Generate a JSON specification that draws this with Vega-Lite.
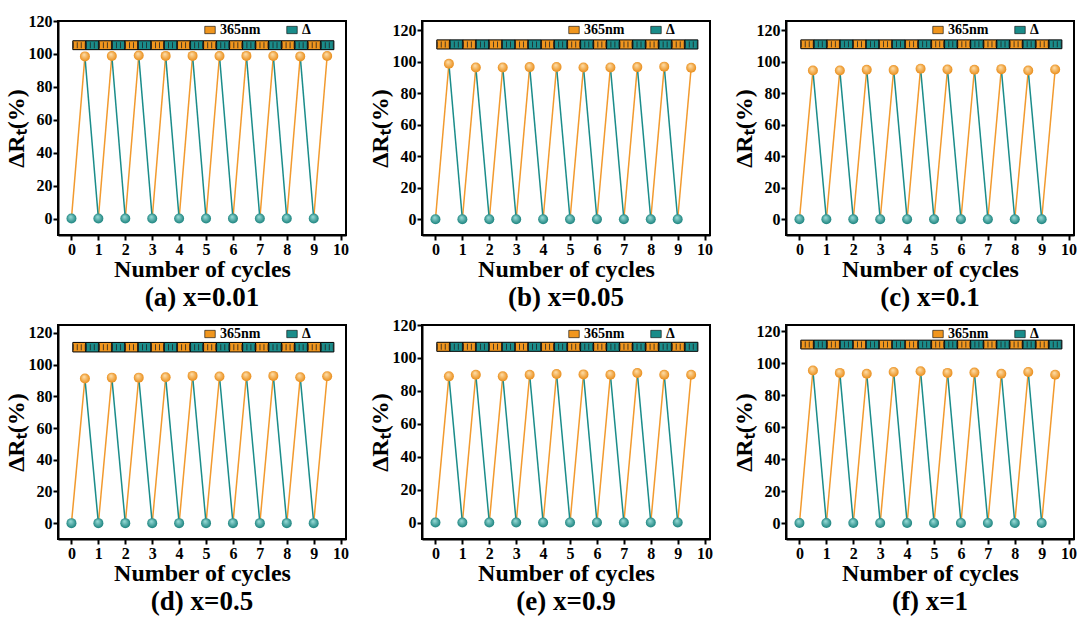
{
  "$schema": "https://vega.github.io/schema/vega-lite/v6.json",
  "background": "white",
  "padding": {"left": 3, "top": 12, "right": 0, "bottom": 0},
  "datasets": {
    "cycles": [
      {"p":"a","t0":0,"t1":0.5,"t2":1,"low":0,"peak":98.5},{"p":"a","t0":1,"t1":1.5,"t2":2,"low":0,"peak":98.7},{"p":"a","t0":2,"t1":2.5,"t2":3,"low":0,"peak":99},{"p":"a","t0":3,"t1":3.5,"t2":4,"low":0,"peak":98.8},{"p":"a","t0":4,"t1":4.5,"t2":5,"low":0,"peak":98.8},{"p":"a","t0":5,"t1":5.5,"t2":6,"low":0,"peak":98.7},{"p":"a","t0":6,"t1":6.5,"t2":7,"low":0,"peak":98.8},{"p":"a","t0":7,"t1":7.5,"t2":8,"low":0,"peak":98.7},{"p":"a","t0":8,"t1":8.5,"t2":9,"low":0,"peak":98.5},{"p":"a","t0":9,"t1":9.5,"t2":10,"low":0,"peak":98.7},
      {"p":"b","t0":0,"t1":0.5,"t2":1,"low":0,"peak":98.8},{"p":"b","t0":1,"t1":1.5,"t2":2,"low":0,"peak":96.5},{"p":"b","t0":2,"t1":2.5,"t2":3,"low":0,"peak":96.5},{"p":"b","t0":3,"t1":3.5,"t2":4,"low":0,"peak":96.7},{"p":"b","t0":4,"t1":4.5,"t2":5,"low":0,"peak":96.8},{"p":"b","t0":5,"t1":5.5,"t2":6,"low":0,"peak":96.5},{"p":"b","t0":6,"t1":6.5,"t2":7,"low":0,"peak":96.5},{"p":"b","t0":7,"t1":7.5,"t2":8,"low":0,"peak":96.7},{"p":"b","t0":8,"t1":8.5,"t2":9,"low":0,"peak":97},{"p":"b","t0":9,"t1":9.5,"t2":10,"low":0,"peak":96.3},
      {"p":"c","t0":0,"t1":0.5,"t2":1,"low":0,"peak":94.5},{"p":"c","t0":1,"t1":1.5,"t2":2,"low":0,"peak":94.5},{"p":"c","t0":2,"t1":2.5,"t2":3,"low":0,"peak":95},{"p":"c","t0":3,"t1":3.5,"t2":4,"low":0,"peak":94.8},{"p":"c","t0":4,"t1":4.5,"t2":5,"low":0,"peak":95.7},{"p":"c","t0":5,"t1":5.5,"t2":6,"low":0,"peak":95.2},{"p":"c","t0":6,"t1":6.5,"t2":7,"low":0,"peak":95},{"p":"c","t0":7,"t1":7.5,"t2":8,"low":0,"peak":95.4},{"p":"c","t0":8,"t1":8.5,"t2":9,"low":0,"peak":94.5},{"p":"c","t0":9,"t1":9.5,"t2":10,"low":0,"peak":95.2},
      {"p":"d","t0":0,"t1":0.5,"t2":1,"low":0,"peak":91.2},{"p":"d","t0":1,"t1":1.5,"t2":2,"low":0,"peak":91.8},{"p":"d","t0":2,"t1":2.5,"t2":3,"low":0,"peak":91.8},{"p":"d","t0":3,"t1":3.5,"t2":4,"low":0,"peak":92},{"p":"d","t0":4,"t1":4.5,"t2":5,"low":0,"peak":92.9},{"p":"d","t0":5,"t1":5.5,"t2":6,"low":0,"peak":92.5},{"p":"d","t0":6,"t1":6.5,"t2":7,"low":0,"peak":92.7},{"p":"d","t0":7,"t1":7.5,"t2":8,"low":0,"peak":92.9},{"p":"d","t0":8,"t1":8.5,"t2":9,"low":0,"peak":92},{"p":"d","t0":9,"t1":9.5,"t2":10,"low":0,"peak":92.7},
      {"p":"e","t0":0,"t1":0.5,"t2":1,"low":0,"peak":88.8},{"p":"e","t0":1,"t1":1.5,"t2":2,"low":0,"peak":89.8},{"p":"e","t0":2,"t1":2.5,"t2":3,"low":0,"peak":88.8},{"p":"e","t0":3,"t1":3.5,"t2":4,"low":0,"peak":89.8},{"p":"e","t0":4,"t1":4.5,"t2":5,"low":0,"peak":90.2},{"p":"e","t0":5,"t1":5.5,"t2":6,"low":0,"peak":90},{"p":"e","t0":6,"t1":6.5,"t2":7,"low":0,"peak":89.8},{"p":"e","t0":7,"t1":7.5,"t2":8,"low":0,"peak":90.8},{"p":"e","t0":8,"t1":8.5,"t2":9,"low":0,"peak":89.8},{"p":"e","t0":9,"t1":9.5,"t2":10,"low":0,"peak":89.8},
      {"p":"f","t0":0,"t1":0.5,"t2":1,"low":0,"peak":95.5},{"p":"f","t0":1,"t1":1.5,"t2":2,"low":0,"peak":94},{"p":"f","t0":2,"t1":2.5,"t2":3,"low":0,"peak":93.5},{"p":"f","t0":3,"t1":3.5,"t2":4,"low":0,"peak":94.6},{"p":"f","t0":4,"t1":4.5,"t2":5,"low":0,"peak":95},{"p":"f","t0":5,"t1":5.5,"t2":6,"low":0,"peak":94},{"p":"f","t0":6,"t1":6.5,"t2":7,"low":0,"peak":94.2},{"p":"f","t0":7,"t1":7.5,"t2":8,"low":0,"peak":93.5},{"p":"f","t0":8,"t1":8.5,"t2":9,"low":0,"peak":94.6},{"p":"f","t0":9,"t1":9.5,"t2":10,"low":0,"peak":92.9}
    ],
    "bar": [
      {"s":0.05,"e":0.535,"kind":"365nm"},{"s":0.535,"e":1.02,"kind":"Δ"},{"s":1.02,"e":1.505,"kind":"365nm"},{"s":1.505,"e":1.99,"kind":"Δ"},{"s":1.99,"e":2.475,"kind":"365nm"},{"s":2.475,"e":2.96,"kind":"Δ"},{"s":2.96,"e":3.445,"kind":"365nm"},{"s":3.445,"e":3.93,"kind":"Δ"},{"s":3.93,"e":4.415,"kind":"365nm"},{"s":4.415,"e":4.9,"kind":"Δ"},{"s":4.9,"e":5.385,"kind":"365nm"},{"s":5.385,"e":5.87,"kind":"Δ"},{"s":5.87,"e":6.355,"kind":"365nm"},{"s":6.355,"e":6.84,"kind":"Δ"},{"s":6.84,"e":7.325,"kind":"365nm"},{"s":7.325,"e":7.81,"kind":"Δ"},{"s":7.81,"e":8.295,"kind":"365nm"},{"s":8.295,"e":8.78,"kind":"Δ"},{"s":8.78,"e":9.265,"kind":"365nm"},{"s":9.265,"e":9.75,"kind":"Δ"}
    ]
  },
  "columns": 3,
  "spacing": {"row": 90, "column": 76},
  "bounds": "flush",
  "resolve": {"scale": {"x": "independent", "y": "independent", "color": "independent"}, "legend": {"color": "independent"}},
  "concat": [
    {"width": 288, "height": 214, "title": "(a) x=0.01",
     "layer": [
      {"data": {"name": "cycles"}, "transform": [{"filter": "datum.p == 'a'"}],
       "mark": {"type": "rule", "color": "#F29A2E", "strokeWidth": 1.5},
       "encoding": {"x": {"field": "t0", "type": "quantitative", "scale": {"domain": [-0.5, 10.2], "nice": false}, "axis": {"values": [0,1,2,3,4,5,6,7,8,9,10], "title": "Number of cycles", "labelAngle": 0}},
                    "x2": {"field": "t1"},
                    "y": {"field": "low", "type": "quantitative", "scale": {"domain": [-10, 120], "nice": false, "zero": false}, "axis": {"values": [0,20,40,60,80,100,120], "title": "ΔRₜ(%)"}},
                    "y2": {"field": "peak"}}},
      {"data": {"name": "cycles"}, "transform": [{"filter": "datum.p == 'a' && datum.t0 < 9"}],
       "mark": {"type": "rule", "color": "#1A8C8A", "strokeWidth": 1.5},
       "encoding": {"x": {"field": "t1", "type": "quantitative", "axis": {"values": [0,1,2,3,4,5,6,7,8,9,10], "title": "Number of cycles", "labelAngle": 0}}, "x2": {"field": "t2"}, "y": {"field": "peak", "type": "quantitative", "axis": {"values": [0,20,40,60,80,100,120], "title": "ΔRₜ(%)"}}, "y2": {"field": "low"}}},
      {"data": {"name": "bar"}, "mark": {"type": "rect", "stroke": "black", "strokeWidth": 1},
       "encoding": {"x": {"field": "s", "type": "quantitative", "axis": {"values": [0,1,2,3,4,5,6,7,8,9,10], "title": "Number of cycles", "labelAngle": 0}}, "x2": {"field": "e"}, "y": {"datum": 102.6, "type": "quantitative", "axis": {"values": [0,20,40,60,80,100,120], "title": "ΔRₜ(%)"}}, "y2": {"datum": 108},
                    "color": {"field": "kind", "type": "nominal", "scale": {"domain": ["365nm", "Δ"], "range": ["#F0961E", "#1A8C8A"]}, "legend": {"title": null, "legendX": 145, "legendY": 2}}}},
      {"data": {"name": "bar"}, "mark": {"type": "rule", "color": "#222", "strokeWidth": 6, "strokeDash": [0.8, 3.2]},
       "encoding": {"x": {"field": "s", "type": "quantitative", "axis": {"values": [0,1,2,3,4,5,6,7,8,9,10], "title": "Number of cycles", "labelAngle": 0}}, "x2": {"field": "e"}, "y": {"datum": 105.3, "type": "quantitative", "axis": {"values": [0,20,40,60,80,100,120], "title": "ΔRₜ(%)"}}}},
      {"data": {"name": "cycles"}, "transform": [{"filter": "datum.p == 'a'"}],
       "mark": {"type": "point", "filled": true, "size": 100, "opacity": 1, "fill": {"gradient": "radial", "x1": 0.4, "y1": 0.3, "r1": 0, "x2": 0.5, "y2": 0.5, "r2": 0.55, "stops": [{"offset": 0, "color": "#9fe0dc"}, {"offset": 1, "color": "#137d78"}]}},
       "encoding": {"x": {"field": "t0", "type": "quantitative", "axis": {"values": [0,1,2,3,4,5,6,7,8,9,10], "title": "Number of cycles", "labelAngle": 0}}, "y": {"field": "low", "type": "quantitative", "axis": {"values": [0,20,40,60,80,100,120], "title": "ΔRₜ(%)"}}}},
      {"data": {"name": "cycles"}, "transform": [{"filter": "datum.p == 'a'"}],
       "mark": {"type": "point", "filled": true, "size": 100, "opacity": 1, "fill": {"gradient": "radial", "x1": 0.4, "y1": 0.3, "r1": 0, "x2": 0.5, "y2": 0.5, "r2": 0.55, "stops": [{"offset": 0, "color": "#ffe2b0"}, {"offset": 1, "color": "#e8870f"}]}},
       "encoding": {"x": {"field": "t1", "type": "quantitative", "axis": {"values": [0,1,2,3,4,5,6,7,8,9,10], "title": "Number of cycles", "labelAngle": 0}}, "y": {"field": "peak", "type": "quantitative", "axis": {"values": [0,20,40,60,80,100,120], "title": "ΔRₜ(%)"}}}}
     ]},
    {"width": 288, "height": 214, "title": "(b) x=0.05",
     "layer": [
      {"data": {"name": "cycles"}, "transform": [{"filter": "datum.p == 'b'"}],
       "mark": {"type": "rule", "color": "#F29A2E", "strokeWidth": 1.5},
       "encoding": {"x": {"field": "t0", "type": "quantitative", "scale": {"domain": [-0.5, 10.2], "nice": false}, "axis": {"values": [0,1,2,3,4,5,6,7,8,9,10], "title": "Number of cycles", "labelAngle": 0}},
                    "x2": {"field": "t1"},
                    "y": {"field": "low", "type": "quantitative", "scale": {"domain": [-10, 126], "nice": false, "zero": false}, "axis": {"values": [0,20,40,60,80,100,120], "title": "ΔRₜ(%)"}},
                    "y2": {"field": "peak"}}},
      {"data": {"name": "cycles"}, "transform": [{"filter": "datum.p == 'b' && datum.t0 < 9"}],
       "mark": {"type": "rule", "color": "#1A8C8A", "strokeWidth": 1.5},
       "encoding": {"x": {"field": "t1", "type": "quantitative", "axis": {"values": [0,1,2,3,4,5,6,7,8,9,10], "title": "Number of cycles", "labelAngle": 0}}, "x2": {"field": "t2"}, "y": {"field": "peak", "type": "quantitative", "axis": {"values": [0,20,40,60,80,100,120], "title": "ΔRₜ(%)"}}, "y2": {"field": "low"}}},
      {"data": {"name": "bar"}, "mark": {"type": "rect", "stroke": "black", "strokeWidth": 1},
       "encoding": {"x": {"field": "s", "type": "quantitative", "axis": {"values": [0,1,2,3,4,5,6,7,8,9,10], "title": "Number of cycles", "labelAngle": 0}}, "x2": {"field": "e"}, "y": {"datum": 108.2, "type": "quantitative", "axis": {"values": [0,20,40,60,80,100,120], "title": "ΔRₜ(%)"}}, "y2": {"datum": 114},
                    "color": {"field": "kind", "type": "nominal", "scale": {"domain": ["365nm", "Δ"], "range": ["#F0961E", "#1A8C8A"]}, "legend": {"title": null, "legendX": 145, "legendY": 2}}}},
      {"data": {"name": "bar"}, "mark": {"type": "rule", "color": "#222", "strokeWidth": 6, "strokeDash": [0.8, 3.2]},
       "encoding": {"x": {"field": "s", "type": "quantitative", "axis": {"values": [0,1,2,3,4,5,6,7,8,9,10], "title": "Number of cycles", "labelAngle": 0}}, "x2": {"field": "e"}, "y": {"datum": 111.1, "type": "quantitative", "axis": {"values": [0,20,40,60,80,100,120], "title": "ΔRₜ(%)"}}}},
      {"data": {"name": "cycles"}, "transform": [{"filter": "datum.p == 'b'"}],
       "mark": {"type": "point", "filled": true, "size": 100, "opacity": 1, "fill": {"gradient": "radial", "x1": 0.4, "y1": 0.3, "r1": 0, "x2": 0.5, "y2": 0.5, "r2": 0.55, "stops": [{"offset": 0, "color": "#9fe0dc"}, {"offset": 1, "color": "#137d78"}]}},
       "encoding": {"x": {"field": "t0", "type": "quantitative", "axis": {"values": [0,1,2,3,4,5,6,7,8,9,10], "title": "Number of cycles", "labelAngle": 0}}, "y": {"field": "low", "type": "quantitative", "axis": {"values": [0,20,40,60,80,100,120], "title": "ΔRₜ(%)"}}}},
      {"data": {"name": "cycles"}, "transform": [{"filter": "datum.p == 'b'"}],
       "mark": {"type": "point", "filled": true, "size": 100, "opacity": 1, "fill": {"gradient": "radial", "x1": 0.4, "y1": 0.3, "r1": 0, "x2": 0.5, "y2": 0.5, "r2": 0.55, "stops": [{"offset": 0, "color": "#ffe2b0"}, {"offset": 1, "color": "#e8870f"}]}},
       "encoding": {"x": {"field": "t1", "type": "quantitative", "axis": {"values": [0,1,2,3,4,5,6,7,8,9,10], "title": "Number of cycles", "labelAngle": 0}}, "y": {"field": "peak", "type": "quantitative", "axis": {"values": [0,20,40,60,80,100,120], "title": "ΔRₜ(%)"}}}}
     ]},
    {"width": 288, "height": 214, "title": "(c) x=0.1",
     "layer": [
      {"data": {"name": "cycles"}, "transform": [{"filter": "datum.p == 'c'"}],
       "mark": {"type": "rule", "color": "#F29A2E", "strokeWidth": 1.5},
       "encoding": {"x": {"field": "t0", "type": "quantitative", "scale": {"domain": [-0.5, 10.2], "nice": false}, "axis": {"values": [0,1,2,3,4,5,6,7,8,9,10], "title": "Number of cycles", "labelAngle": 0}},
                    "x2": {"field": "t1"},
                    "y": {"field": "low", "type": "quantitative", "scale": {"domain": [-10, 126], "nice": false, "zero": false}, "axis": {"values": [0,20,40,60,80,100,120], "title": "ΔRₜ(%)"}},
                    "y2": {"field": "peak"}}},
      {"data": {"name": "cycles"}, "transform": [{"filter": "datum.p == 'c' && datum.t0 < 9"}],
       "mark": {"type": "rule", "color": "#1A8C8A", "strokeWidth": 1.5},
       "encoding": {"x": {"field": "t1", "type": "quantitative", "axis": {"values": [0,1,2,3,4,5,6,7,8,9,10], "title": "Number of cycles", "labelAngle": 0}}, "x2": {"field": "t2"}, "y": {"field": "peak", "type": "quantitative", "axis": {"values": [0,20,40,60,80,100,120], "title": "ΔRₜ(%)"}}, "y2": {"field": "low"}}},
      {"data": {"name": "bar"}, "mark": {"type": "rect", "stroke": "black", "strokeWidth": 1},
       "encoding": {"x": {"field": "s", "type": "quantitative", "axis": {"values": [0,1,2,3,4,5,6,7,8,9,10], "title": "Number of cycles", "labelAngle": 0}}, "x2": {"field": "e"}, "y": {"datum": 108.4, "type": "quantitative", "axis": {"values": [0,20,40,60,80,100,120], "title": "ΔRₜ(%)"}}, "y2": {"datum": 114},
                    "color": {"field": "kind", "type": "nominal", "scale": {"domain": ["365nm", "Δ"], "range": ["#F0961E", "#1A8C8A"]}, "legend": {"title": null, "legendX": 145, "legendY": 2}}}},
      {"data": {"name": "bar"}, "mark": {"type": "rule", "color": "#222", "strokeWidth": 6, "strokeDash": [0.8, 3.2]},
       "encoding": {"x": {"field": "s", "type": "quantitative", "axis": {"values": [0,1,2,3,4,5,6,7,8,9,10], "title": "Number of cycles", "labelAngle": 0}}, "x2": {"field": "e"}, "y": {"datum": 111.2, "type": "quantitative", "axis": {"values": [0,20,40,60,80,100,120], "title": "ΔRₜ(%)"}}}},
      {"data": {"name": "cycles"}, "transform": [{"filter": "datum.p == 'c'"}],
       "mark": {"type": "point", "filled": true, "size": 100, "opacity": 1, "fill": {"gradient": "radial", "x1": 0.4, "y1": 0.3, "r1": 0, "x2": 0.5, "y2": 0.5, "r2": 0.55, "stops": [{"offset": 0, "color": "#9fe0dc"}, {"offset": 1, "color": "#137d78"}]}},
       "encoding": {"x": {"field": "t0", "type": "quantitative", "axis": {"values": [0,1,2,3,4,5,6,7,8,9,10], "title": "Number of cycles", "labelAngle": 0}}, "y": {"field": "low", "type": "quantitative", "axis": {"values": [0,20,40,60,80,100,120], "title": "ΔRₜ(%)"}}}},
      {"data": {"name": "cycles"}, "transform": [{"filter": "datum.p == 'c'"}],
       "mark": {"type": "point", "filled": true, "size": 100, "opacity": 1, "fill": {"gradient": "radial", "x1": 0.4, "y1": 0.3, "r1": 0, "x2": 0.5, "y2": 0.5, "r2": 0.55, "stops": [{"offset": 0, "color": "#ffe2b0"}, {"offset": 1, "color": "#e8870f"}]}},
       "encoding": {"x": {"field": "t1", "type": "quantitative", "axis": {"values": [0,1,2,3,4,5,6,7,8,9,10], "title": "Number of cycles", "labelAngle": 0}}, "y": {"field": "peak", "type": "quantitative", "axis": {"values": [0,20,40,60,80,100,120], "title": "ΔRₜ(%)"}}}}
     ]},
    {"width": 288, "height": 214, "title": "(d) x=0.5",
     "layer": [
      {"data": {"name": "cycles"}, "transform": [{"filter": "datum.p == 'd'"}],
       "mark": {"type": "rule", "color": "#F29A2E", "strokeWidth": 1.5},
       "encoding": {"x": {"field": "t0", "type": "quantitative", "scale": {"domain": [-0.5, 10.2], "nice": false}, "axis": {"values": [0,1,2,3,4,5,6,7,8,9,10], "title": "Number of cycles", "labelAngle": 0}},
                    "x2": {"field": "t1"},
                    "y": {"field": "low", "type": "quantitative", "scale": {"domain": [-10, 125], "nice": false, "zero": false}, "axis": {"values": [0,20,40,60,80,100,120], "title": "ΔRₜ(%)"}},
                    "y2": {"field": "peak"}}},
      {"data": {"name": "cycles"}, "transform": [{"filter": "datum.p == 'd' && datum.t0 < 9"}],
       "mark": {"type": "rule", "color": "#1A8C8A", "strokeWidth": 1.5},
       "encoding": {"x": {"field": "t1", "type": "quantitative", "axis": {"values": [0,1,2,3,4,5,6,7,8,9,10], "title": "Number of cycles", "labelAngle": 0}}, "x2": {"field": "t2"}, "y": {"field": "peak", "type": "quantitative", "axis": {"values": [0,20,40,60,80,100,120], "title": "ΔRₜ(%)"}}, "y2": {"field": "low"}}},
      {"data": {"name": "bar"}, "mark": {"type": "rect", "stroke": "black", "strokeWidth": 1},
       "encoding": {"x": {"field": "s", "type": "quantitative", "axis": {"values": [0,1,2,3,4,5,6,7,8,9,10], "title": "Number of cycles", "labelAngle": 0}}, "x2": {"field": "e"}, "y": {"datum": 108, "type": "quantitative", "axis": {"values": [0,20,40,60,80,100,120], "title": "ΔRₜ(%)"}}, "y2": {"datum": 114},
                    "color": {"field": "kind", "type": "nominal", "scale": {"domain": ["365nm", "Δ"], "range": ["#F0961E", "#1A8C8A"]}, "legend": {"title": null, "legendX": 145, "legendY": 2}}}},
      {"data": {"name": "bar"}, "mark": {"type": "rule", "color": "#222", "strokeWidth": 6, "strokeDash": [0.8, 3.2]},
       "encoding": {"x": {"field": "s", "type": "quantitative", "axis": {"values": [0,1,2,3,4,5,6,7,8,9,10], "title": "Number of cycles", "labelAngle": 0}}, "x2": {"field": "e"}, "y": {"datum": 111, "type": "quantitative", "axis": {"values": [0,20,40,60,80,100,120], "title": "ΔRₜ(%)"}}}},
      {"data": {"name": "cycles"}, "transform": [{"filter": "datum.p == 'd'"}],
       "mark": {"type": "point", "filled": true, "size": 100, "opacity": 1, "fill": {"gradient": "radial", "x1": 0.4, "y1": 0.3, "r1": 0, "x2": 0.5, "y2": 0.5, "r2": 0.55, "stops": [{"offset": 0, "color": "#9fe0dc"}, {"offset": 1, "color": "#137d78"}]}},
       "encoding": {"x": {"field": "t0", "type": "quantitative", "axis": {"values": [0,1,2,3,4,5,6,7,8,9,10], "title": "Number of cycles", "labelAngle": 0}}, "y": {"field": "low", "type": "quantitative", "axis": {"values": [0,20,40,60,80,100,120], "title": "ΔRₜ(%)"}}}},
      {"data": {"name": "cycles"}, "transform": [{"filter": "datum.p == 'd'"}],
       "mark": {"type": "point", "filled": true, "size": 100, "opacity": 1, "fill": {"gradient": "radial", "x1": 0.4, "y1": 0.3, "r1": 0, "x2": 0.5, "y2": 0.5, "r2": 0.55, "stops": [{"offset": 0, "color": "#ffe2b0"}, {"offset": 1, "color": "#e8870f"}]}},
       "encoding": {"x": {"field": "t1", "type": "quantitative", "axis": {"values": [0,1,2,3,4,5,6,7,8,9,10], "title": "Number of cycles", "labelAngle": 0}}, "y": {"field": "peak", "type": "quantitative", "axis": {"values": [0,20,40,60,80,100,120], "title": "ΔRₜ(%)"}}}}
     ]},
    {"width": 288, "height": 214, "title": "(e) x=0.9",
     "layer": [
      {"data": {"name": "cycles"}, "transform": [{"filter": "datum.p == 'e'"}],
       "mark": {"type": "rule", "color": "#F29A2E", "strokeWidth": 1.5},
       "encoding": {"x": {"field": "t0", "type": "quantitative", "scale": {"domain": [-0.5, 10.2], "nice": false}, "axis": {"values": [0,1,2,3,4,5,6,7,8,9,10], "title": "Number of cycles", "labelAngle": 0}},
                    "x2": {"field": "t1"},
                    "y": {"field": "low", "type": "quantitative", "scale": {"domain": [-10, 120], "nice": false, "zero": false}, "axis": {"values": [0,20,40,60,80,100,120], "title": "ΔRₜ(%)"}},
                    "y2": {"field": "peak"}}},
      {"data": {"name": "cycles"}, "transform": [{"filter": "datum.p == 'e' && datum.t0 < 9"}],
       "mark": {"type": "rule", "color": "#1A8C8A", "strokeWidth": 1.5},
       "encoding": {"x": {"field": "t1", "type": "quantitative", "axis": {"values": [0,1,2,3,4,5,6,7,8,9,10], "title": "Number of cycles", "labelAngle": 0}}, "x2": {"field": "t2"}, "y": {"field": "peak", "type": "quantitative", "axis": {"values": [0,20,40,60,80,100,120], "title": "ΔRₜ(%)"}}, "y2": {"field": "low"}}},
      {"data": {"name": "bar"}, "mark": {"type": "rect", "stroke": "black", "strokeWidth": 1},
       "encoding": {"x": {"field": "s", "type": "quantitative", "axis": {"values": [0,1,2,3,4,5,6,7,8,9,10], "title": "Number of cycles", "labelAngle": 0}}, "x2": {"field": "e"}, "y": {"datum": 104, "type": "quantitative", "axis": {"values": [0,20,40,60,80,100,120], "title": "ΔRₜ(%)"}}, "y2": {"datum": 109.5},
                    "color": {"field": "kind", "type": "nominal", "scale": {"domain": ["365nm", "Δ"], "range": ["#F0961E", "#1A8C8A"]}, "legend": {"title": null, "legendX": 145, "legendY": 2}}}},
      {"data": {"name": "bar"}, "mark": {"type": "rule", "color": "#222", "strokeWidth": 6, "strokeDash": [0.8, 3.2]},
       "encoding": {"x": {"field": "s", "type": "quantitative", "axis": {"values": [0,1,2,3,4,5,6,7,8,9,10], "title": "Number of cycles", "labelAngle": 0}}, "x2": {"field": "e"}, "y": {"datum": 106.75, "type": "quantitative", "axis": {"values": [0,20,40,60,80,100,120], "title": "ΔRₜ(%)"}}}},
      {"data": {"name": "cycles"}, "transform": [{"filter": "datum.p == 'e'"}],
       "mark": {"type": "point", "filled": true, "size": 100, "opacity": 1, "fill": {"gradient": "radial", "x1": 0.4, "y1": 0.3, "r1": 0, "x2": 0.5, "y2": 0.5, "r2": 0.55, "stops": [{"offset": 0, "color": "#9fe0dc"}, {"offset": 1, "color": "#137d78"}]}},
       "encoding": {"x": {"field": "t0", "type": "quantitative", "axis": {"values": [0,1,2,3,4,5,6,7,8,9,10], "title": "Number of cycles", "labelAngle": 0}}, "y": {"field": "low", "type": "quantitative", "axis": {"values": [0,20,40,60,80,100,120], "title": "ΔRₜ(%)"}}}},
      {"data": {"name": "cycles"}, "transform": [{"filter": "datum.p == 'e'"}],
       "mark": {"type": "point", "filled": true, "size": 100, "opacity": 1, "fill": {"gradient": "radial", "x1": 0.4, "y1": 0.3, "r1": 0, "x2": 0.5, "y2": 0.5, "r2": 0.55, "stops": [{"offset": 0, "color": "#ffe2b0"}, {"offset": 1, "color": "#e8870f"}]}},
       "encoding": {"x": {"field": "t1", "type": "quantitative", "axis": {"values": [0,1,2,3,4,5,6,7,8,9,10], "title": "Number of cycles", "labelAngle": 0}}, "y": {"field": "peak", "type": "quantitative", "axis": {"values": [0,20,40,60,80,100,120], "title": "ΔRₜ(%)"}}}}
     ]},
    {"width": 288, "height": 214, "title": "(f) x=1",
     "layer": [
      {"data": {"name": "cycles"}, "transform": [{"filter": "datum.p == 'f'"}],
       "mark": {"type": "rule", "color": "#F29A2E", "strokeWidth": 1.5},
       "encoding": {"x": {"field": "t0", "type": "quantitative", "scale": {"domain": [-0.5, 10.2], "nice": false}, "axis": {"values": [0,1,2,3,4,5,6,7,8,9,10], "title": "Number of cycles", "labelAngle": 0}},
                    "x2": {"field": "t1"},
                    "y": {"field": "low", "type": "quantitative", "scale": {"domain": [-10, 124], "nice": false, "zero": false}, "axis": {"values": [0,20,40,60,80,100,120], "title": "ΔRₜ(%)"}},
                    "y2": {"field": "peak"}}},
      {"data": {"name": "cycles"}, "transform": [{"filter": "datum.p == 'f' && datum.t0 < 9"}],
       "mark": {"type": "rule", "color": "#1A8C8A", "strokeWidth": 1.5},
       "encoding": {"x": {"field": "t1", "type": "quantitative", "axis": {"values": [0,1,2,3,4,5,6,7,8,9,10], "title": "Number of cycles", "labelAngle": 0}}, "x2": {"field": "t2"}, "y": {"field": "peak", "type": "quantitative", "axis": {"values": [0,20,40,60,80,100,120], "title": "ΔRₜ(%)"}}, "y2": {"field": "low"}}},
      {"data": {"name": "bar"}, "mark": {"type": "rect", "stroke": "black", "strokeWidth": 1},
       "encoding": {"x": {"field": "s", "type": "quantitative", "axis": {"values": [0,1,2,3,4,5,6,7,8,9,10], "title": "Number of cycles", "labelAngle": 0}}, "x2": {"field": "e"}, "y": {"datum": 109, "type": "quantitative", "axis": {"values": [0,20,40,60,80,100,120], "title": "ΔRₜ(%)"}}, "y2": {"datum": 114.5},
                    "color": {"field": "kind", "type": "nominal", "scale": {"domain": ["365nm", "Δ"], "range": ["#F0961E", "#1A8C8A"]}, "legend": {"title": null, "legendX": 145, "legendY": 2}}}},
      {"data": {"name": "bar"}, "mark": {"type": "rule", "color": "#222", "strokeWidth": 6, "strokeDash": [0.8, 3.2]},
       "encoding": {"x": {"field": "s", "type": "quantitative", "axis": {"values": [0,1,2,3,4,5,6,7,8,9,10], "title": "Number of cycles", "labelAngle": 0}}, "x2": {"field": "e"}, "y": {"datum": 111.75, "type": "quantitative", "axis": {"values": [0,20,40,60,80,100,120], "title": "ΔRₜ(%)"}}}},
      {"data": {"name": "cycles"}, "transform": [{"filter": "datum.p == 'f'"}],
       "mark": {"type": "point", "filled": true, "size": 100, "opacity": 1, "fill": {"gradient": "radial", "x1": 0.4, "y1": 0.3, "r1": 0, "x2": 0.5, "y2": 0.5, "r2": 0.55, "stops": [{"offset": 0, "color": "#9fe0dc"}, {"offset": 1, "color": "#137d78"}]}},
       "encoding": {"x": {"field": "t0", "type": "quantitative", "axis": {"values": [0,1,2,3,4,5,6,7,8,9,10], "title": "Number of cycles", "labelAngle": 0}}, "y": {"field": "low", "type": "quantitative", "axis": {"values": [0,20,40,60,80,100,120], "title": "ΔRₜ(%)"}}}},
      {"data": {"name": "cycles"}, "transform": [{"filter": "datum.p == 'f'"}],
       "mark": {"type": "point", "filled": true, "size": 100, "opacity": 1, "fill": {"gradient": "radial", "x1": 0.4, "y1": 0.3, "r1": 0, "x2": 0.5, "y2": 0.5, "r2": 0.55, "stops": [{"offset": 0, "color": "#ffe2b0"}, {"offset": 1, "color": "#e8870f"}]}},
       "encoding": {"x": {"field": "t1", "type": "quantitative", "axis": {"values": [0,1,2,3,4,5,6,7,8,9,10], "title": "Number of cycles", "labelAngle": 0}}, "y": {"field": "peak", "type": "quantitative", "axis": {"values": [0,20,40,60,80,100,120], "title": "ΔRₜ(%)"}}}}
     ]}
  ],
  "config": {
    "font": "Liberation Serif",
    "view": {"stroke": "black", "strokeWidth": 2},
    "axis": {"labelFont": "Liberation Serif", "labelFontSize": 16, "labelFontWeight": "bold", "labelColor": "black", "labelPadding": 1, "labelOverlap": false, "labelFlush": false, "labelBound": false,
             "titleFont": "Liberation Serif", "titleFontSize": 24, "titleFontWeight": "bold", "titleColor": "black", "titlePadding": 0,
             "domainColor": "black", "domainWidth": 2, "tickColor": "black", "tickWidth": 2, "tickSize": 5, "grid": false},
    "title": {"font": "Liberation Serif", "fontSize": 27, "fontWeight": "bold", "color": "black", "orient": "bottom", "anchor": "middle", "offset": 4},
    "legend": {"orient": "none", "direction": "horizontal", "padding": 0, "labelFont": "Liberation Serif", "labelFontSize": 14, "labelFontWeight": "bold", "labelColor": "black",
               "symbolType": "M-1,-0.7H1V0.7H-1Z", "symbolSize": 110, "symbolStrokeColor": "black", "symbolStrokeWidth": 0.6, "symbolOpacity": 1, "columnPadding": 24, "labelOffset": 3}
  }
}
